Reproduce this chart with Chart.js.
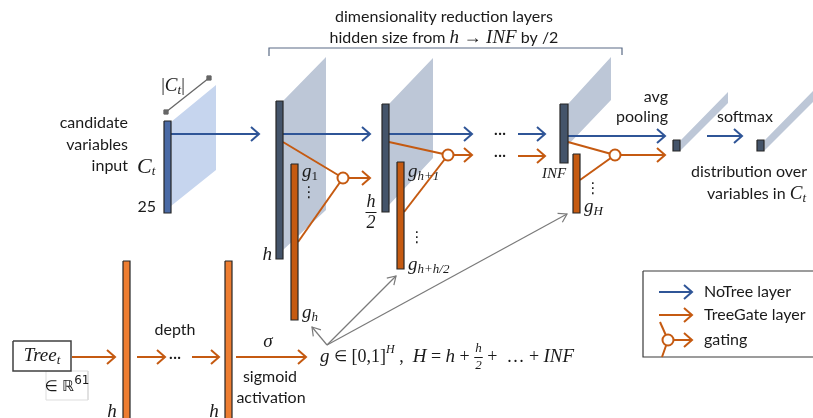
<!DOCTYPE html>
<html>
<head>
<meta charset="utf-8">
<script src="https://cdn.jsdelivr.net/npm/chart.js@4.4.0/dist/chart.umd.min.js"></script>
<style>
  html, body { margin: 0; padding: 0; background: #fff; }
  canvas { display: block; }
</style>
</head>
<body>
<canvas id="diagram" width="813" height="418"></canvas>
<script>
/* Schema da rede: coordenadas em pixels (x para a direita, y para baixo) */
const BLUE = "#2f5597";
const ORANGE = "#c55a11";
const GRAY = "#7a7a7a";

// planos (paralelogramos) atras das camadas
const planes = [
    [171, 122, 216, 85, 216, 170, 171, 206, "#c6d5ee"],
    [283, 101, 326, 57, 326, 210, 283, 250, "#bdc7d7"],
    [389, 104, 433, 58, 433, 158, 389, 205, "#bdc7d7"],
    [568, 104, 611, 57, 611, 100, 568, 145, "#bdc7d7"],
    [680, 141, 728, 92, 728, 103, 680, 151, "#bdc7d7"],
    [764, 141, 813, 91, 813, 102, 764, 151, "#bdc7d7"]
];

// barras das camadas: x1, y1, x2, y2, cor
const bars = [
    [164, 121, 171, 213, "#4a6aa5"],
    [276, 101, 283, 259, "#44546a"],
    [291, 164, 298, 320, ORANGE],
    [382, 104, 389, 212, "#44546a"],
    [397, 162, 404, 269, ORANGE],
    [560, 104, 568, 163, "#44546a"],
    [573, 154, 580, 213, ORANGE],
    [673, 140, 680, 151, "#44546a"],
    [757, 140, 764, 151, "#44546a"],
    [123, 261, 130, 424, "#ed7d31"],
    [225, 261, 232, 424, "#ed7d31"]
];

const blueArrows = [
    [171, 134, 259, 134],
    [283, 134, 370, 134],
    [389, 134, 472, 134],
    [518, 134, 545, 134],
    [568, 136, 665, 136],
    [707, 136, 742, 136],
    [659, 292, 692, 292]
];

const orangeArrows = [
    [348, 178, 370, 178],
    [453, 155, 472, 155],
    [518, 156, 545, 156],
    [620, 155, 665, 155],
    [72, 357, 115, 357],
    [137, 357, 165, 357],
    [192, 357, 219, 357],
    [236, 357, 306, 357],
    [659, 315, 692, 315],
    [674, 340, 692, 340]
];

// ligacoes do gating (sem ponta)
const orangeLinks = [
    [283, 142, 343, 178],
    [298, 242, 343, 178],
    [389, 142, 448, 155],
    [404, 212, 448, 155],
    [568, 142, 615, 155],
    [580, 180, 615, 155],
    [660, 322, 668, 340],
    [668, 340, 662, 357]
];

const gates = [[343, 178], [448, 155], [615, 155], [668, 340]];

const pointers = [
    [327, 345, 312, 327],
    [327, 345, 396, 276],
    [327, 345, 567, 214]
];

const dimLine = [[166, 112], [209, 78]];
const bracket = [[269, 56], [269, 48], [622, 48], [622, 55]];
const treeBox = [13, 341, 71, 371];
const rBox = [46, 371, 88, 400];
const legendBox = [643, 271, 816, 357];

// textos: x, y, alinhamento, trechos [texto, estilo]
const textLabels = [
    [444, 17, "center", [["dimensionality reduction layers", "n"]]],
    [444, 38, "center", [["hidden size from ", "n"], ["h", "m"], [" \u2192 ", "mr"], ["INF", "m"], [" by /2", "n"]]],
    [173, 86, "center", [["|", "mr"], ["C", "m"], ["t", "sub"], ["|", "mr"]]],
    [128, 123, "right", [["candidate", "n"]]],
    [128, 145, "right", [["variables", "n"]]],
    [128, 166, "right", [["input", "n"]]],
    [137, 167, "left", [["C", "mb"], ["t", "sub"]]],
    [156, 207, "right", [["25", "n"]]],
    [272, 255, "right", [["h", "m"]]],
    [302, 172, "left", [["g", "m"], ["1", "subr"]]],
    [309, 193, "center", [["\u22ee", "dots"]]],
    [302, 313, "left", [["g", "m"], ["h", "sub"]]],
    [371, 212, "center", [["h/2", "frb"]]],
    [408, 172, "left", [["g", "m"], ["h+1", "sub"]]],
    [417, 238, "center", [["\u22ee", "dots"]]],
    [408, 265, "left", [["g", "m"], ["h+h/2", "sub"]]],
    [500, 133, "center", [["\u00b7\u00b7\u00b7", "n"]]],
    [500, 155, "center", [["\u00b7\u00b7\u00b7", "n"]]],
    [554, 174, "center", [["INF", "ms"]]],
    [593, 189, "center", [["\u22ee", "dots"]]],
    [584, 207, "left", [["g", "m"], ["H", "sub"]]],
    [668, 97, "right", [["avg", "n"]]],
    [668, 117, "right", [["pooling", "n"]]],
    [717, 117, "left", [["softmax", "n"]]],
    [691, 172, "left", [["distribution over", "n"]]],
    [707, 194, "left", [["variables in ", "n"], ["C", "m"], ["t", "sub"]]],
    [42, 356, "center", [["Tree", "m"], ["t", "sub"]]],
    [67, 387, "center", [["\u2208 \u211d", "el"], ["61", "supr"]]],
    [175, 330, "center", [["depth", "n"]]],
    [175, 357, "center", [["\u00b7\u00b7\u00b7", "n"]]],
    [268, 342, "center", [["\u03c3", "m"]]],
    [270, 377, "center", [["sigmoid", "n"]]],
    [271, 398, "center", [["activation", "n"]]],
    [112, 412, "center", [["h", "m"]]],
    [214, 412, "center", [["h", "m"]]],
    [320, 357, "left", [["g", "m"], [" ", "mr"], ["\u2208", "el"], [" [0,1]", "mr"], ["H", "sup"], [" ,  ", "mr"], ["H", "m"], [" = ", "mr"], ["h", "m"], [" + ", "mr"], ["h/2", "fr"], [" +  \u2026 + ", "mr"], ["INF", "m"]]],
    [704, 292, "left", [["NoTree layer", "n"]]],
    [704, 315, "left", [["TreeGate layer", "n"]]],
    [704, 340, "left", [["gating", "n"]]]
];

const styles = {
    n: { font: '16px Lato', dy: 0 },
    m: { font: 'italic 19px "Liberation Serif"', dy: 0 },
    mb: { font: 'italic 22px "Liberation Serif"', dy: 0 },
    ms: { font: 'italic 15px "Liberation Serif"', dy: 0 },
    mr: { font: '18px "Liberation Serif"', dy: 0 },
    el: { font: '15px "DejaVu Sans"', dy: 0 },
    sub: { font: 'italic 13px "Liberation Serif"', dy: 5 },
    subr: { font: '13px "Liberation Serif"', dy: 5 },
    sup: { font: 'italic 12px "Liberation Serif"', dy: -7 },
    supr: { font: '12px "DejaVu Sans"', dy: -6 },
    dots: { font: '15px "DejaVu Sans"', dy: 0 },
    fr: { font: 'italic 13px "Liberation Serif"', dy: 8 },
    frb: { font: 'italic 18px "Liberation Serif"', dy: 10 }
};

function pt(x, y) {
    return { x: x, y: y };
}

function lineSet(points, color, width, order) {
    return {
        data: points.map(p => pt(p[0], p[1])),
        showLine: true,
        fill: false,
        borderColor: color,
        borderWidth: width,
        pointRadius: 0,
        order: order,
        clip: false
    };
}

function polySet(points, fill, border, width, order) {
    const data = points.map(p => pt(p[0], p[1]));
    data.push(data[0]);
    return {
        data: data,
        showLine: true,
        fill: "shape",
        backgroundColor: fill,
        borderColor: border,
        borderWidth: width,
        pointRadius: 0,
        order: order,
        clip: false
    };
}

function arrowSets(a, color, width, len, half, order) {
    const dx = a[2] - a[0], dy = a[3] - a[1];
    const d = Math.sqrt(dx * dx + dy * dy);
    const ux = dx / d, uy = dy / d;
    const nx = -uy, ny = ux;
    const head = [
        [a[2] - len * ux + half * nx, a[3] - len * uy + half * ny],
        [a[2], a[3]],
        [a[2] - len * ux - half * nx, a[3] - len * uy - half * ny]
    ];
    return [
        lineSet([[a[0], a[1]], [a[2], a[3]]], color, width, order),
        lineSet(head, color, width, order)
    ];
}

function rectPts(r) {
    return [[r[0], r[1]], [r[2], r[1]], [r[2], r[3]], [r[0], r[3]]];
}

const datasets = [];

planes.forEach(p => {
    const pts = [[p[0], p[1]], [p[2], p[3]], [p[4], p[5]], [p[6], p[7]]];
    datasets.push(polySet(pts, p[8], "rgba(0,0,0,0)", 0, 9));
});

datasets.push(polySet(rectPts(legendBox), "#ffffff", "#3a3a3a", 1.2, 9));
datasets.push(polySet(rectPts(rBox), "#ffffff", "#dddddd", 1, 9));
datasets.push(polySet(rectPts(treeBox), "#ffffff", "#404040", 1.5, 4));
datasets.push(lineSet(bracket, "#5a6b85", 1.2, 8));
datasets.push(lineSet(dimLine, "#666666", 1.3, 8));
datasets.push({
    data: dimLine.map(p => pt(p[0], p[1])),
    showLine: false,
    pointStyle: "rect",
    pointRadius: 3,
    backgroundColor: "#666666",
    borderColor: "#666666",
    order: 7,
    clip: false
});

orangeLinks.forEach(l => datasets.push(lineSet([[l[0], l[1]], [l[2], l[3]]], ORANGE, 2, 6)));
blueArrows.forEach(a => arrowSets(a, BLUE, 2, 8, 7, 6).forEach(s => datasets.push(s)));
orangeArrows.forEach(a => arrowSets(a, ORANGE, 2, 8, 7, 6).forEach(s => datasets.push(s)));
pointers.forEach(a => arrowSets(a, GRAY, 1.2, 8, 5, 6).forEach(s => datasets.push(s)));

bars.forEach(b => datasets.push(polySet(rectPts(b), b[4], "#262626", 1.2, 3)));

datasets.push({
    data: gates.map(g => pt(g[0], g[1])),
    showLine: false,
    pointStyle: "circle",
    pointRadius: 5.5,
    backgroundColor: "#ffffff",
    borderColor: ORANGE,
    borderWidth: 2,
    order: 1,
    clip: false
});

// desenha os textos com trechos em fontes diferentes
function isFrac(style) {
    return style === "fr" || style === "frb";
}

function measureRun(ctx, run) {
    const st = styles[run[1]];
    ctx.font = st.font;
    if (isFrac(run[1])) {
        const parts = run[0].split("/");
        return Math.max(ctx.measureText(parts[0]).width, ctx.measureText(parts[1]).width) + 2;
    }
    return ctx.measureText(run[0]).width;
}

const textPlugin = {
    id: "diagramText",
    afterDatasetsDraw(chart) {
        const ctx = chart.ctx;
        const xs = chart.scales.x, ys = chart.scales.y;
        ctx.save();
        ctx.fillStyle = "#1a1a1a";
        ctx.textBaseline = "middle";
        ctx.textAlign = "left";
        textLabels.forEach(lab => {
            const runs = lab[3];
            let total = 0;
            runs.forEach(r => { total += measureRun(ctx, r); });
            let x = xs.getPixelForValue(lab[0]);
            const y = ys.getPixelForValue(lab[1]);
            if (lab[2] === "center") x -= total / 2;
            if (lab[2] === "right") x -= total;
            runs.forEach(r => {
                const st = styles[r[1]];
                const w = measureRun(ctx, r);
                ctx.font = st.font;
                if (isFrac(r[1])) {
                    const parts = r[0].split("/");
                    ctx.textAlign = "center";
                    ctx.fillText(parts[0], x + w / 2, y - st.dy);
                    ctx.fillText(parts[1], x + w / 2, y + st.dy + 1);
                    ctx.textAlign = "left";
                    ctx.fillRect(x, y, w, 1);
                } else {
                    ctx.fillText(r[0], x, y + st.dy);
                }
                x += w;
            });
        });
        ctx.restore();
    }
};

const ctx = document.getElementById("diagram").getContext("2d");
new Chart(ctx, {
    type: "line",
    data: { datasets: datasets },
    options: {
        responsive: false,
        animation: false,
        events: [],
        layout: { padding: 0, autoPadding: false },
        scales: {
            x: { type: "linear", min: 0, max: 813, display: false },
            y: { type: "linear", min: 0, max: 418, reverse: true, display: false }
        },
        plugins: {
            legend: { display: false },
            tooltip: { enabled: false }
        }
    },
    plugins: [textPlugin]
});
</script>
</body>
</html>
